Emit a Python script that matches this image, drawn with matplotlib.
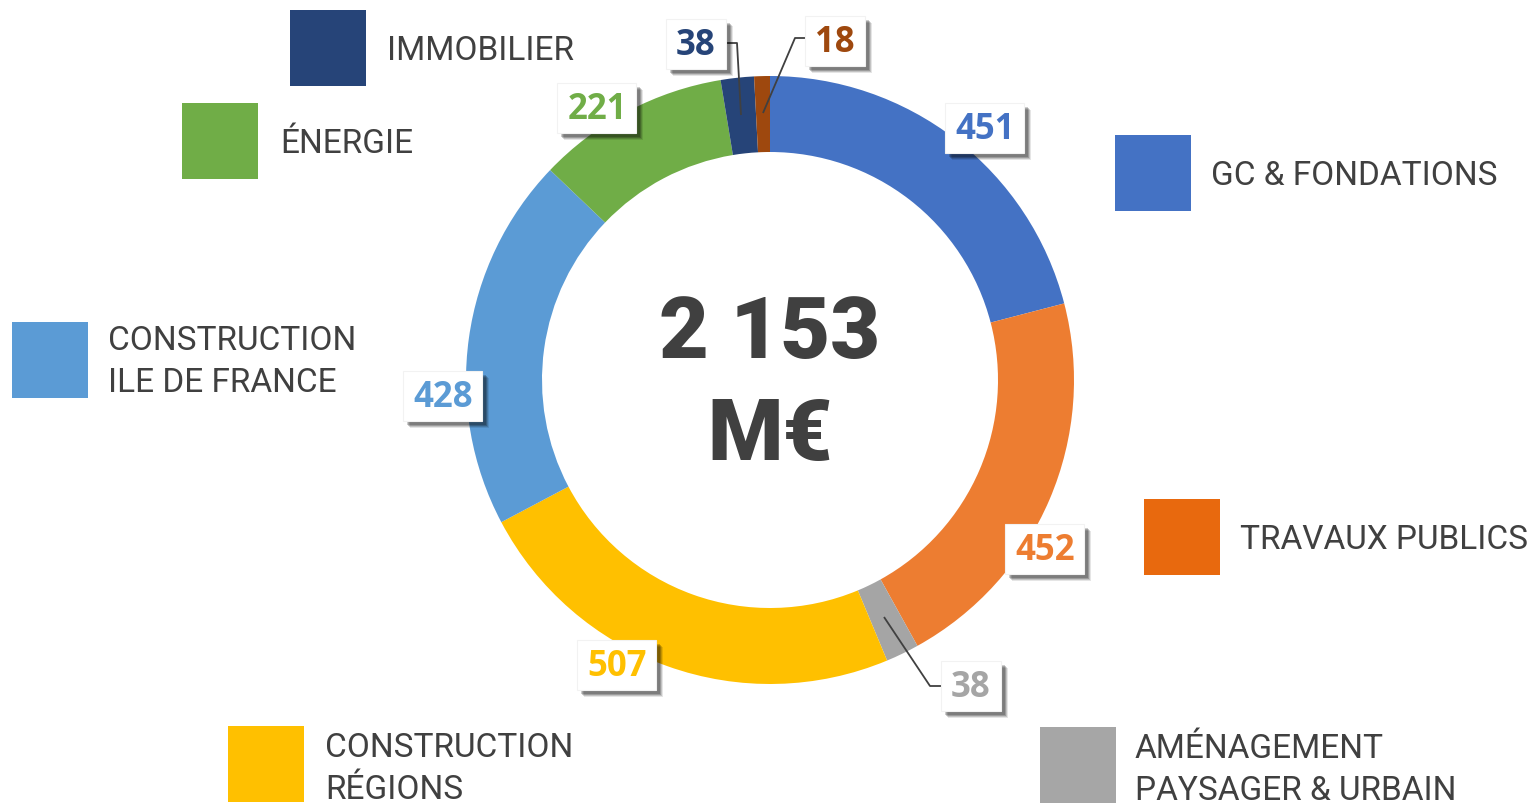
import matplotlib
matplotlib.use("Agg")
import matplotlib.pyplot as plt
from matplotlib.patches import Rectangle

# ---------------- data ----------------
segment_values = [451, 452, 38, 507, 428, 221, 38, 18]
segment_colors = ["#4472C4", "#ED7D31", "#A5A5A5", "#FFC000",
                  "#5B9BD5", "#70AD47", "#264478", "#9E480E"]
segment_labels = ["451", "452", "38", "507", "428", "221", "38", "18"]

legend_labels = ["IMMOBILIER", "ÉNERGIE", "GC & FONDATIONS",
                 "CONSTRUCTION\nILE DE FRANCE", "TRAVAUX PUBLICS",
                 "CONSTRUCTION\nRÉGIONS", "AMÉNAGEMENT\nPAYSAGER & URBAIN"]
legend_colors = ["#264478", "#70AD47", "#4472C4", "#5B9BD5",
                 "#E8690E", "#FFC000", "#A6A6A6"]
center_lines = ["2 153", "M€"]

# ---------------- layout (pixels) ----------------
W, H = 1530, 805
def Y(y):
    return H - y

fig = plt.figure(figsize=(W / 100, H / 100), dpi=100)
ax = fig.add_axes([0, 0, 1, 1])

cx, cy, R = 770, 380, 304
ax.pie(segment_values, colors=segment_colors, startangle=90, counterclock=False,
       center=(cx, Y(cy)), radius=R,
       wedgeprops=dict(width=R * 0.25, edgecolor="none", linewidth=0))

ax.set_xlim(0, W)
ax.set_ylim(0, H)
ax.set_aspect("equal")
ax.axis("off")

# center text
for txt, yy in zip(center_lines, [334, 436]):
    ax.text(cx, Y(yy), txt, ha="center", va="center", fontsize=62,
            family="Roboto", fontweight="black", color="#404040")

# data label boxes (center positions in pixels)
label_pos = [(985, 128), (1045, 549), (971, 686), (617, 665),
             (443, 396), (597, 108), (696, 44), (835, 41)]

for (px, py), txt, col in zip(label_pos, segment_labels, segment_colors):
    bw = 22 + 19 * len(txt)
    bh = 50
    x0, y0 = px - bw / 2, Y(py) - bh / 2
    # soft shadow
    for off, a in [(7, 0.10), (6, 0.15), (5, 0.2), (4, 0.2)]:
        ax.add_patch(Rectangle((x0 + off, y0 - off), bw, bh, facecolor="#000000",
                               alpha=a, edgecolor="none", zorder=4))
    ax.add_patch(Rectangle((x0, y0), bw, bh, facecolor="white",
                           edgecolor="#F2F2F2", linewidth=0.8, zorder=5))
    ax.text(px, Y(py) - 2, txt, ha="center", va="center", fontsize=25,
            family="Open Sans", fontweight="bold", color=col, zorder=6)

# leader lines
leaders = [
    [(725, 43), (737, 43), (741, 115)],
    [(806, 38), (795, 38), (763, 113)],
    [(884, 617), (930, 686), (944, 686)],
]
for pts in leaders:
    ax.plot([p[0] for p in pts], [Y(p[1]) for p in pts], color="#404040",
            lw=1.3, zorder=3, solid_capstyle="butt")

# legend squares and texts
legend_sq = [(290, 10), (182, 103), (1115, 135), (12, 322),
             (1144, 499), (228, 726), (1040, 727)]
legend_txt = [(387, 51), (280, 144), (1211, 176), (108, 362),
              (1240, 540), (325, 769), (1135, 770)]
for (sx, sy), (tx, ty), lab, col in zip(legend_sq, legend_txt, legend_labels, legend_colors):
    ax.add_patch(Rectangle((sx, Y(sy + 76)), 76, 76, facecolor=col, edgecolor="none"))
    ax.text(tx, Y(ty), lab, ha="left", va="center", fontsize=24,
            family="Roboto", color="#404040", linespacing=1.42)

fig.savefig("out.png", dpi=100)
